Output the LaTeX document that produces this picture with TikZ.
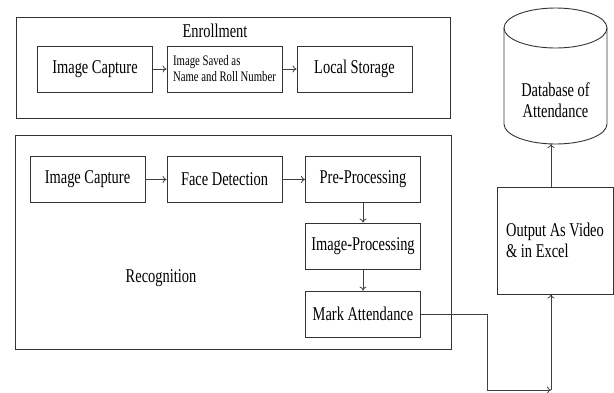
\documentclass[tikz,border=0pt]{standalone}
\usepackage{fontspec}
\setmainfont{Liberation Serif}[FakeStretch=0.74]
\usetikzlibrary{arrows.meta}

\begin{document}
\begin{tikzpicture}[x=1pt,y=-1pt,
  every node/.style={font=\fontsize{19.5}{21}\selectfont},
  box/.style={draw=black!80,line width=0.9pt,minimum width=115pt,
    minimum height=46pt,inner sep=2pt},
  frame/.style={draw=black!80,line width=0.9pt},
  link/.style={draw=black!75,line width=0.8pt,-{To[length=4pt,width=7pt]}}]

  \useasboundingbox (0,0) rectangle (614,392);

  % enrollment
  \draw[frame] (16,17) rectangle (450,118);
  \node[] (enroll) at (215,31) {Enrollment};
  \node[box] (cap1) at (95,69) {Image Capture};
  \node[box,align=left,font=\fontsize{14.5}{16}\selectfont] (save) at (224.5,69)
    {Image Saved as\\Name and Roll Number};
  \node[box] (local) at (354.5,69) {Local Storage};
  \draw[link] (cap1) -- (save);
  \draw[link] (save) -- (local);

  % recognition
  \draw[frame] (15,135) rectangle (451,349);
  \node[] (recog) at (161,278) {Recognition};
  \node[box] (cap2) at (87.5,179.5) {Image Capture};
  \node[box] (face) at (224.5,179.5) {Face Detection};
  \node[box] (pre) at (363,179.5) {Pre-Processing};
  \node[box] (imgproc) at (363,246) {Image-Processing};
  \node[box] (mark) at (363,314) {Mark Attendance};
  \draw[link] (cap2) -- (face);
  \draw[link] (face) -- (pre);
  \draw[link] (pre) -- (imgproc);
  \draw[link] (imgproc) -- (mark);

  % output
  \node[box,minimum width=116pt,minimum height=107pt,align=left]
    (out) at (555,240.5) {Output As Video\\\& in Excel};

  % database
  \draw[frame] (504,28) -- (504,124)
    arc[start angle=180,end angle=360,x radius=51.5pt,y radius=20pt] -- (607,28);
  \draw[frame] (555.5,28) ellipse [x radius=51.5pt,y radius=20pt];
  \node[align=center] (db) at (555.5,100) {Database of\\Attendance};
  \coordinate (dbbase) at (551,144);

  % connectors on the right
  \coordinate (turn) at (551,390);
  \draw[link] (mark.east) -- ++(66,0) |- (turn);
  \draw[link] (turn) -- (turn |- out.south);
  \draw[link] (out.north -| turn) -- (dbbase);

\end{tikzpicture}
\end{document}
